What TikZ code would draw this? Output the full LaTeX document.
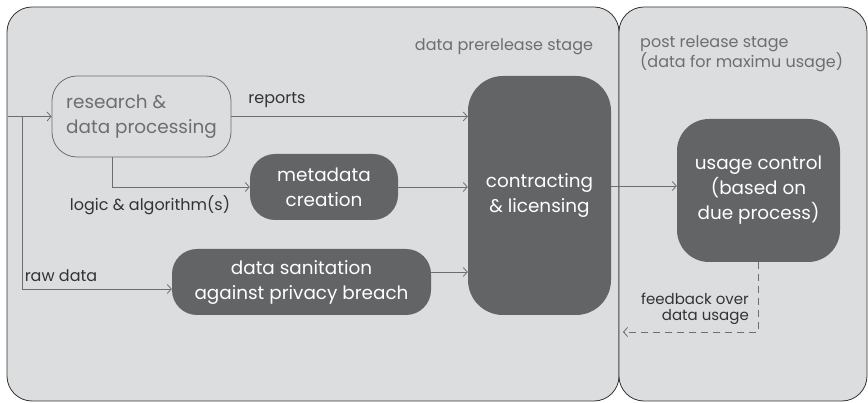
\documentclass[tikz,border=0pt]{standalone}
\usepackage{fontspec}
\setmainfont{Poppins}
\usetikzlibrary{arrows.meta}
\definecolor{panelfill}{HTML}{DCDDDE}
\definecolor{darkbox}{HTML}{636466}
\definecolor{linegrey}{HTML}{6D6E70}
\definecolor{labeltext}{HTML}{333333}
\begin{document}
\begin{tikzpicture}[x=1pt,y=-1pt,
  panelbox/.style={draw=black!80,fill=panelfill,line width=0.8pt,rounded corners=25pt},
  lightbox/.style={draw=linegrey,fill=panelfill,line width=0.8pt,rounded corners=25pt,text=linegrey,font=\fontsize{18.4}{25}\selectfont,align=left,inner sep=0pt},
  darkbox/.style={fill=darkbox,text=white,font=\fontsize{18.4}{25}\selectfont,align=center,inner sep=0pt},
  arr/.style={draw=linegrey,line width=0.8pt,-{Straight Barb[length=4pt,width=9pt]}},
  lbl/.style={text=labeltext,font=\fontsize{16}{16}\selectfont,inner sep=0pt},
  stagelbl/.style={text=linegrey,font=\fontsize{16}{17}\selectfont,inner sep=0pt}]
\useasboundingbox (0,0) rectangle (868,403);
\draw[panelbox] (7,7) rectangle (619,401);
\draw[panelbox] (619,7) rectangle (867,401);

\node[lightbox,minimum width=179pt,minimum height=81pt] (research) at (141.5,116.5) {research \&\\data processing};
\node[darkbox,minimum width=148pt,minimum height=66pt,rounded corners=25pt] (metadata) at (324,187) {metadata\\creation};
\node[darkbox,minimum width=259pt,minimum height=66pt,rounded corners=25pt] (sanitation) at (301.5,282) {data sanitation\\against privacy breach};
\node[darkbox,minimum width=143pt,minimum height=239pt,rounded corners=35pt] (contracting) at (539.5,195.5) {contracting\\\& licensing};
\node[darkbox,minimum width=163pt,minimum height=143pt,rounded corners=32pt] (usage) at (758.5,190.5) {usage control\\(based on\\due process)};

\coordinate (entry) at (8,116.5);
\coordinate (split) at (22,116.5);
\coordinate (fb) at (623,332);

\draw[arr] (entry) -- (research.west);
\draw[arr] (split) |- ([yshift=-7pt]sanitation.west);
\draw[arr] (research.east) -- (research.east -| contracting.west);
\draw[arr] ([xshift=-29.5pt]research.south) |- (metadata.west);
\draw[arr] (metadata.east) -- (metadata.east -| contracting.west);
\draw[arr] ([yshift=10pt]sanitation.east) -- ([yshift=10pt]sanitation.east -| contracting.west);
\draw[arr] ([yshift=4.5pt]usage.west -| contracting.east) -- ([yshift=4.5pt]usage.west);
\draw[arr,dashed,dash pattern=on 7pt off 5pt] (usage.south) |- (fb);

\node[lbl] (lreports) at (277,100) {reports};
\node[lbl] (llogic) at (150,205) {logic \& algorithm(s)};
\node[lbl] (lraw) at (61,276) {raw data};
\node[lbl,align=right,anchor=east,font=\fontsize{15}{16}\selectfont] (lfb) at (749,309) {feedback over\\data usage};
\node[stagelbl] (lpre) at (504,47) {data prerelease stage};
\node[stagelbl,align=left,anchor=west] (lpost) at (640,53.5) {post release stage\\(data for maximu usage)};
\end{tikzpicture}
\end{document}
